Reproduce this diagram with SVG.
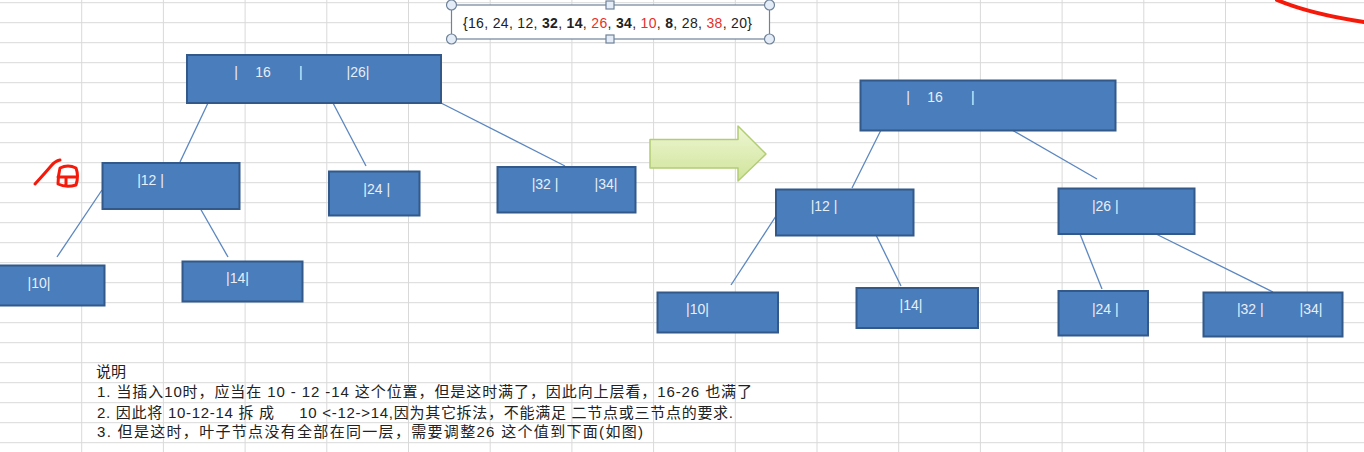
<svg xmlns="http://www.w3.org/2000/svg" width="1364" height="452" viewBox="0 0 1364 452">
<style>
.grid line{stroke:#d9d9d9;stroke-width:1}
.node rect{fill:#4a7dbb;stroke:#33598a;stroke-width:2}
.node text{fill:#e8eef8;font-family:"Liberation Sans",Arial,sans-serif;font-size:14px;text-anchor:middle}
.conn line{stroke:#5a86c0;stroke-width:1.3}
.desc{font-family:"Liberation Sans","Noto Sans CJK SC",sans-serif;font-size:15px;fill:#222;white-space:pre}
.handle{fill:#e4edf7;stroke:#6f8299;stroke-width:1.2}
.red{fill:none;stroke:#f5190a;stroke-linecap:round;stroke-linejoin:round}
</style>
<defs>
<linearGradient id="ag" x1="0" y1="0" x2="0" y2="1">
<stop offset="0" stop-color="#eef6d3"/>
<stop offset="1" stop-color="#cfe49a"/>
</linearGradient>
</defs>
<rect width="1364" height="452" fill="#ffffff"/>
<g class="grid">
<line x1="81.7" y1="0" x2="81.7" y2="452"/><line x1="163.4" y1="0" x2="163.4" y2="452"/><line x1="245.1" y1="0" x2="245.1" y2="452"/><line x1="326.8" y1="0" x2="326.8" y2="452"/><line x1="408.5" y1="0" x2="408.5" y2="452"/><line x1="490.2" y1="0" x2="490.2" y2="452"/><line x1="571.9" y1="0" x2="571.9" y2="452"/><line x1="653.6" y1="0" x2="653.6" y2="452"/><line x1="735.3" y1="0" x2="735.3" y2="452"/><line x1="817" y1="0" x2="817" y2="452"/><line x1="898.7" y1="0" x2="898.7" y2="452"/><line x1="980.4" y1="0" x2="980.4" y2="452"/><line x1="1062.1" y1="0" x2="1062.1" y2="452"/><line x1="1143.8" y1="0" x2="1143.8" y2="452"/><line x1="1225.5" y1="0" x2="1225.5" y2="452"/><line x1="1307.2" y1="0" x2="1307.2" y2="452"/>
<line x1="0" y1="2.7" x2="1364" y2="2.7"/><line x1="0" y1="22.7" x2="1364" y2="22.7"/><line x1="0" y1="42.7" x2="1364" y2="42.7"/><line x1="0" y1="62.7" x2="1364" y2="62.7"/><line x1="0" y1="82.7" x2="1364" y2="82.7"/><line x1="0" y1="102.7" x2="1364" y2="102.7"/><line x1="0" y1="122.7" x2="1364" y2="122.7"/><line x1="0" y1="142.7" x2="1364" y2="142.7"/><line x1="0" y1="162.7" x2="1364" y2="162.7"/><line x1="0" y1="182.7" x2="1364" y2="182.7"/><line x1="0" y1="202.7" x2="1364" y2="202.7"/><line x1="0" y1="222.7" x2="1364" y2="222.7"/><line x1="0" y1="242.7" x2="1364" y2="242.7"/><line x1="0" y1="262.7" x2="1364" y2="262.7"/><line x1="0" y1="282.7" x2="1364" y2="282.7"/><line x1="0" y1="302.7" x2="1364" y2="302.7"/><line x1="0" y1="322.7" x2="1364" y2="322.7"/><line x1="0" y1="342.7" x2="1364" y2="342.7"/><line x1="0" y1="362.7" x2="1364" y2="362.7"/><line x1="0" y1="382.7" x2="1364" y2="382.7"/><line x1="0" y1="402.7" x2="1364" y2="402.7"/><line x1="0" y1="422.7" x2="1364" y2="422.7"/><line x1="0" y1="442.7" x2="1364" y2="442.7"/>
</g>

<g id="sequence-box">
<rect x="451.5" y="5" width="318" height="34" fill="#ffffff" stroke="#6f8299" stroke-width="1.2"/>
<text x="463" y="28" textLength="289" lengthAdjust="spacing" font-family="Liberation Sans,Arial,sans-serif" font-size="14" fill="#222">{16, 24, 12, <tspan font-weight="bold">32</tspan>, <tspan font-weight="bold">14</tspan>, <tspan fill="#e8302a">26</tspan>, <tspan font-weight="bold">34</tspan>, <tspan fill="#e8302a">10</tspan>, <tspan font-weight="bold">8</tspan>, 28, <tspan fill="#e8302a">38</tspan>, 20}</text>
<circle class="handle" cx="451.5" cy="5" r="5"/><circle class="handle" cx="769.5" cy="5" r="5"/><circle class="handle" cx="451.5" cy="39" r="5"/><circle class="handle" cx="769.5" cy="39" r="5"/>
<rect class="handle" x="606" y="1" width="8" height="8"/><rect class="handle" x="606" y="35" width="8" height="8"/>
</g>

<g id="connectors" class="conn">
<line x1="208" y1="103" x2="180" y2="162"/>
<line x1="333" y1="103" x2="366" y2="166"/>
<line x1="441" y1="103" x2="565" y2="166"/>
<line x1="102" y1="190" x2="57" y2="257"/>
<line x1="200" y1="208" x2="228" y2="257"/>
<line x1="881" y1="130" x2="852" y2="188"/>
<line x1="1012" y1="130" x2="1097" y2="179"/>
<line x1="776" y1="216" x2="731" y2="285"/>
<line x1="876" y1="235" x2="901" y2="286"/>
<line x1="1080" y1="234" x2="1102" y2="289"/>
<line x1="1156" y1="234" x2="1273" y2="292"/>
</g>

<g id="L-root" class="node"><rect x="187" y="55" width="254" height="48"/><text x="236" y="76.5">|</text><text x="263" y="76.5">16</text><text x="300.7" y="76.5">|</text><text x="358" y="76.5">|26|</text></g>
<g id="L-n12" class="node"><rect x="102.5" y="163" width="137" height="46"/><text x="150.5" y="185">|12 |</text></g>
<g id="L-n24" class="node"><rect x="329" y="171.5" width="90.5" height="44"/><text x="376.7" y="194">|24 |</text></g>
<g id="L-n3234" class="node"><rect x="497.5" y="167" width="138" height="45.5"/><text x="545" y="189">|32 |</text><text x="606" y="189">|34|</text></g>
<g id="L-n10" class="node"><rect x="-1" y="265.5" width="105.5" height="40"/><text x="39" y="287.5">|10|</text></g>
<g id="L-n14" class="node"><rect x="182.5" y="261.5" width="120" height="40"/><text x="237.5" y="283">|14|</text></g>

<g id="arrow">
<polygon points="650,139.5 738,139.5 738,126 766,154 738,181 738,168 650,168" fill="url(#ag)" stroke="#b3cd74" stroke-width="1.5" stroke-linejoin="round"/>
</g>

<g id="R-root" class="node"><rect x="860.5" y="80.5" width="255" height="50"/><text x="908" y="102">|</text><text x="935" y="102">16</text><text x="972.7" y="102">|</text></g>
<g id="R-n12" class="node"><rect x="776" y="189.5" width="137.5" height="46"/><text x="824" y="211">|12 |</text></g>
<g id="R-n26" class="node"><rect x="1058.5" y="188.5" width="136" height="45.5"/><text x="1105.3" y="210.5">|26 |</text></g>
<g id="R-n10" class="node"><rect x="657.5" y="292.5" width="120.5" height="40"/><text x="697.5" y="314">|10|</text></g>
<g id="R-n14" class="node"><rect x="856.5" y="288" width="121.5" height="40"/><text x="911" y="310">|14|</text></g>
<g id="R-n24" class="node"><rect x="1058.5" y="291" width="89.5" height="44.5"/><text x="1105.3" y="314">|24 |</text></g>
<g id="R-n3234" class="node"><rect x="1203.5" y="292.5" width="139" height="44"/><text x="1250.3" y="314.3">|32 |</text><text x="1311" y="314.3">|34|</text></g>

<g id="notes">
<text class="desc" x="96" y="377">说明</text>
<text class="desc" x="97" y="397" textLength="655" lengthAdjust="spacing">1. 当插入10时，应当在 10 - 12 -14 这个位置，但是这时满了，因此向上层看，16-26 也满了</text>
<text class="desc" x="97" y="417.5" textLength="636" lengthAdjust="spacing">2. 因此将 10-12-14 拆 成     10 &lt;-12-&gt;14,因为其它拆法，不能满足 二节点或三节点的要求.</text>
<text class="desc" x="97" y="437" textLength="546" lengthAdjust="spacing">3. 但是这时，叶子节点没有全部在同一层，需要调整26 这个值到下面(如图)</text>
</g>

<g id="red-marks">
<path class="red" stroke-width="3" d="M35,184 Q46,172 51,166 Q55,161 60,160"/>
<path class="red" stroke-width="3" d="M60,168 Q58,176 58,184 Q66,188 76,185 Q79,176 76,168 Q68,164 60,168 Z M58,177 L77,177 M66,177 L66,186"/>
<path class="red" stroke-width="4" d="M1277,0 Q1310,14 1364,22"/>
</g>
</svg>
